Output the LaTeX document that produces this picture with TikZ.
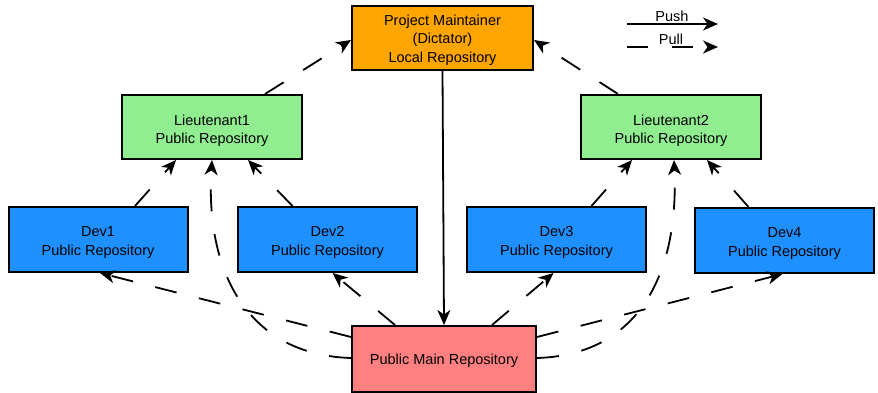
\documentclass[tikz,border=0pt]{standalone}
\usepackage{fontspec}
\setmainfont{Liberation Sans}
\usetikzlibrary{arrows.meta,calc}
\newcommand\boxtxt[2][3pt]{\raisebox{-#1}[\height][\depth]{\begin{tabular}{@{}c@{}}#2\end{tabular}}}
\begin{document}
\begin{tikzpicture}[x=1pt,y=-1pt,
  box/.style={draw=black,line width=2pt,align=center,inner sep=0pt,
    font=\fontsize{14.5}{18.5}\selectfont},
  pmbox/.style={box,fill=pmc,minimum width=181pt,minimum height=64pt},
  ltbox/.style={box,fill=ltc,minimum width=180pt,minimum height=64pt},
  devbox/.style={box,fill=devc,minimum width=179pt,minimum height=65pt},
  mainbox/.style={box,fill=mainc,minimum width=184pt,minimum height=66pt},
  conn/.style={line width=1.8pt,-{Stealth[length=15pt,width=13pt,inset=4.5pt]}},
  pull/.style={conn,dash pattern=on 22pt off 23pt},
  lbl/.style={font=\fontsize{14.5}{16}\selectfont,inner sep=0pt}]
\definecolor{pmc}{HTML}{FFA500}
\definecolor{ltc}{HTML}{90EE90}
\definecolor{devc}{HTML}{1E90FF}
\definecolor{mainc}{HTML}{FF8080}
\useasboundingbox (0,0) rectangle (878,393);

\node[pmbox] (pm) at (442.5,38) {\boxtxt[2pt]{Project Maintainer\\(Dictator)\\Local Repository}};
\node[ltbox] (l1) at (212,127) {\boxtxt[4pt]{Lieutenant1\\Public Repository}};
\node[ltbox] (l2) at (671,127) {\boxtxt[4pt]{Lieutenant2\\Public Repository}};
\node[devbox] (d1) at (98,239.5) {\boxtxt{Dev1\\Public Repository}};
\node[devbox] (d2) at (327.5,239.5) {\boxtxt{Dev2\\Public Repository}};
\node[devbox] (d3) at (556.5,239.5) {\boxtxt{Dev3\\Public Repository}};
\node[devbox] (d4) at (784.5,240.5) {\boxtxt{Dev4\\Public Repository}};
\node[mainbox] (main) at (444,359) {\boxtxt[2pt]{Public Main Repository}};

% push
\draw[conn] (pm.south) -- (main.north);

% pulls to project maintainer
\draw[pull] ([xshift=53pt]l1.north) -- ([yshift=-2pt]pm.west);
\draw[pull] ([xshift=-53pt]l2.north) -- ([yshift=-2pt]pm.east);

% devs to lieutenants
\draw[pull] ([xshift=37pt]d1.north) -- ([xshift=-36pt]l1.south);
\draw[pull] ([xshift=-35pt]d2.north) -- ([xshift=36pt]l1.south);
\draw[pull] ([xshift=35pt]d3.north) -- ([xshift=-39pt]l2.south);
\draw[pull] ([xshift=-36pt]d4.north) -- ([xshift=36pt]l2.south);

% main to devs
\draw[pull] ([xshift=-49pt]main.north) -- ([xshift=5pt]d2.south);
\draw[pull] ([xshift=48pt]main.north) -- ([xshift=-3pt]d3.south);
\draw[pull] ([yshift=22pt]main.west) -- ([xshift=2pt]d1.south);
\draw[pull] ([yshift=22pt]main.east) -- ([xshift=-2pt]d4.south);

% main to lieutenants (curved)
\draw[pull] ([yshift=1pt]main.west) .. controls (250,355) and (205,275) .. (l1.south);
\draw[pull] ([yshift=1pt]main.east) .. controls (638,355) and (679,275) .. ([xshift=3pt]l2.south);

% legend
\coordinate (pushA) at (627,24);
\coordinate (pushB) at (718,24);
\coordinate (pullA) at (627,47);
\coordinate (pullB) at (718,47);
\draw[conn] (pushA) -- (pushB);
\draw[conn,dash pattern=on 21pt off 24pt] (pullA) -- (pullB);
\node[lbl] (pushlbl) at (672,16) {Push};
\node[lbl] (pulllbl) at (671,39) {Pull};
\end{tikzpicture}
\end{document}
